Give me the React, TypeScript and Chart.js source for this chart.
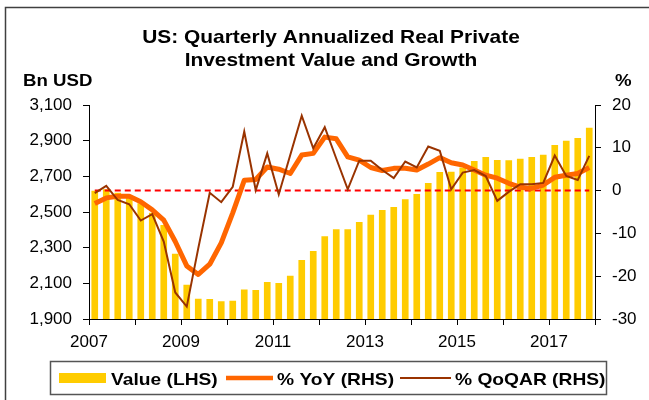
import React, { useEffect, useRef } from 'react';
import { Chart, registerables } from 'chart.js';

Chart.register(...registerables);

const startYear = 2007;
const titleLines = ['US: Quarterly Annualized Real Private', 'Investment Value and Growth'];
const leftAxisTitle = 'Bn USD';
const rightAxisTitle = '%';
const legendLabels = ['Value (LHS)', '% YoY (RHS)', '% QoQAR (RHS)'];

// Quarterly, 2007Q1 .. 2017Q4
const valueBn = [
  2619, 2627, 2608, 2586, 2549, 2496, 2427, 2266,
  2092, 2014, 2012, 1999, 2003, 2066, 2063, 2107,
  2102, 2143, 2231, 2281, 2364, 2403, 2403, 2444,
  2485, 2511, 2528, 2571, 2601, 2663, 2724, 2726,
  2750, 2786, 2808, 2792, 2790, 2799, 2808, 2821,
  2876, 2900, 2915, 2973,
];
const yoyPct = [
  -3.0, -1.7, -1.3, -1.3, -2.6, -4.5, -6.9, -11.9,
  -17.6, -19.6, -17.2, -12.2, -5.2, 2.4, 2.6, 5.5,
  5.0, 4.0, 8.3, 8.7, 12.5, 12.1, 7.9, 7.1,
  5.4, 4.7, 5.2, 5.2, 4.8, 6.2, 7.7, 6.5,
  6.0, 4.8, 3.6, 2.9, 1.7, 0.8, 0.5, 1.3,
  3.1, 3.6, 4.0, 5.4,
];
const qoqarPct = [
  -0.6, 1.1, -2.2, -3.2, -7.0, -5.5, -11.9, -23.8,
  -27.1, -13.5, -0.5, -2.7, 0.9, 13.8, 0.1, 8.7,
  -0.9, 8.3, 17.5, 9.9, 14.8, 7.5, 0.3, 7.0,
  7.0, 4.8, 2.9, 6.8, 5.4, 10.3, 9.3, 0.3,
  4.2, 4.8, 3.4, -2.4, -0.3, 1.5, 1.5, 1.8,
  8.2, 3.4, 2.5, 8.1,
];
const zeroLine = valueBn.map(() => 0);

const leftMin = 1900;
const leftMax = 3100;
const leftStep = 200;
const rightMin = -30;
const rightMax = 20;
const rightStep = 10;

const FONT = '"Liberation Sans", Arial, Helvetica, sans-serif';
const BAR_COLOR = '#FFCC00';
const YOY_COLOR = '#FF6600';
const QOQ_COLOR = '#993300';
const ZERO_COLOR = '#FF0000';
const SX = 1.13;

function stretchText(
  ctx: CanvasRenderingContext2D,
  text: string,
  x: number,
  y: number,
  font: string,
  sx: number,
  align: 'left' | 'center' | 'right'
) {
  ctx.save();
  ctx.font = font;
  ctx.textBaseline = 'alphabetic';
  ctx.textAlign = 'left';
  ctx.fillStyle = '#000';
  const w = ctx.measureText(text).width * sx;
  const left = align === 'center' ? x - w / 2 : align === 'right' ? x - w : x;
  ctx.translate(left, y);
  ctx.scale(sx, 1);
  ctx.fillText(text, 0, 0);
  ctx.restore();
}

const decorPlugin = {
  id: 'decor',
  afterDraw(chart: any) {
    const ctx: CanvasRenderingContext2D = chart.ctx;
    ctx.save();
    // outer frame
    ctx.strokeStyle = '#404040';
    ctx.lineWidth = 1.5;
    ctx.beginPath();
    ctx.moveTo(5.5, 400);
    ctx.lineTo(5.5, 7.5);
    ctx.lineTo(649, 7.5);
    ctx.stroke();

    // title
    const tFont = `bold 18.5px ${FONT}`;
    stretchText(ctx, titleLines[0], 331, 43, tFont, SX, 'center');
    stretchText(ctx, titleLines[1], 331, 66, tFont, SX, 'center');

    // axis titles
    const aFont = `bold 16.5px ${FONT}`;
    stretchText(ctx, leftAxisTitle, 23, 85.5, aFont, SX, 'left');
    stretchText(ctx, rightAxisTitle, 615, 85.5, aFont, SX, 'left');

    // legend
    ctx.fillStyle = '#fff';
    ctx.fillRect(50.5, 361.5, 556, 33);
    ctx.strokeStyle = '#555';
    ctx.lineWidth = 1.5;
    ctx.strokeRect(50.5, 361.5, 556, 33);

    ctx.fillStyle = BAR_COLOR;
    ctx.fillRect(59, 373, 47, 10);

    ctx.lineCap = 'butt';
    ctx.strokeStyle = YOY_COLOR;
    ctx.lineWidth = 4.5;
    ctx.beginPath();
    ctx.moveTo(226, 378);
    ctx.lineTo(273, 378);
    ctx.stroke();

    ctx.strokeStyle = QOQ_COLOR;
    ctx.lineWidth = 2;
    ctx.beginPath();
    ctx.moveTo(400, 378);
    ctx.lineTo(451, 378);
    ctx.stroke();

    const lFont = `bold 17px ${FONT}`;
    stretchText(ctx, legendLabels[0], 111, 384.5, lFont, SX, 'left');
    stretchText(ctx, legendLabels[1], 277, 384.5, lFont, SX, 'left');
    stretchText(ctx, legendLabels[2], 455, 384.5, lFont, SX, 'left');
    ctx.restore();
  },
};

const toXY = (arr: number[]) => arr.map((v, i) => ({ x: i + 0.5, y: v }));

export default function App() {
  const ref = useRef<HTMLCanvasElement | null>(null);

  useEffect(() => {
    document.body.style.margin = '0';
    const canvas = ref.current;
    if (!canvas) return;
    const n = valueBn.length;
    const chart = new Chart(canvas, {
      type: 'bar',
      data: {
        datasets: [
          {
            type: 'line',
            label: legendLabels[2],
            data: toXY(qoqarPct),
            yAxisID: 'y1',
            borderColor: QOQ_COLOR,
            borderWidth: 2,
            pointRadius: 0,
            tension: 0,
            order: 1,
          },
          {
            type: 'line',
            label: legendLabels[1],
            data: toXY(yoyPct),
            yAxisID: 'y1',
            borderColor: YOY_COLOR,
            borderWidth: 5,
            pointRadius: 0,
            tension: 0,
            borderJoinStyle: 'round',
            order: 2,
          },
          {
            type: 'line',
            label: 'zero',
            data: toXY(zeroLine),
            yAxisID: 'y1',
            borderColor: ZERO_COLOR,
            borderWidth: 2,
            borderDash: [6, 4],
            pointRadius: 0,
            order: 3,
          },
          {
            type: 'bar',
            label: legendLabels[0],
            data: toXY(valueBn),
            yAxisID: 'y',
            backgroundColor: BAR_COLOR,
            borderWidth: 0,
            categoryPercentage: 1,
            barPercentage: 0.58,
            order: 4,
          },
        ],
      } as any,
      options: {
        responsive: false,
        animation: false,
        maintainAspectRatio: false,
        layout: { padding: { top: 105, left: 0, right: 0, bottom: 0 } },
        plugins: {
          legend: { display: false },
          title: { display: false },
          tooltip: { enabled: false },
        },
        scales: {
          x: {
            type: 'linear',
            min: 0,
            max: n,
            offset: false,
            afterFit: (s: any) => {
              s.height = 81;
            },
            afterBuildTicks: (s: any) => {
              const t = [];
              for (let v = 0; v <= n; v += 4) t.push({ value: v });
              s.ticks = t;
            },
            ticks: {
              autoSkip: false,
              maxRotation: 0,
              padding: 7,
              color: '#000',
              font: { family: FONT, size: 17 },
              callback: (v: any) => (Number(v) % 8 === 0 ? String(startYear + Number(v) / 4) : ''),
            },
            grid: {
              offset: false,
              drawOnChartArea: false,
              drawTicks: true,
              tickLength: 6,
              color: '#000',
              lineWidth: 1,
            },
            border: { display: true, color: '#000', width: 1 },
          },
          y: {
            type: 'linear',
            position: 'left',
            min: leftMin,
            max: leftMax,
            afterFit: (s: any) => {
              s.width = 89;
            },
            ticks: {
              stepSize: leftStep,
              padding: 11,
              color: '#000',
              font: { family: FONT, size: 17 },
              callback: (v: any) => Number(v).toLocaleString('en-US'),
            },
            grid: { drawOnChartArea: false, drawTicks: true, tickLength: 6, color: '#000', lineWidth: 1 },
            border: { display: true, color: '#000', width: 1 },
          },
          y1: {
            type: 'linear',
            position: 'right',
            min: rightMin,
            max: rightMax,
            afterFit: (s: any) => {
              s.width = 54;
            },
            ticks: {
              stepSize: rightStep,
              padding: 11,
              color: '#000',
              font: { family: FONT, size: 17 },
            },
            grid: { drawOnChartArea: false, drawTicks: true, tickLength: 6, color: '#000', lineWidth: 1 },
            border: { display: true, color: '#000', width: 1 },
          },
        },
      } as any,
      plugins: [decorPlugin],
    });
    return () => chart.destroy();
  }, []);

  return <canvas ref={ref} width={649} height={400} style={{ display: 'block' }} />;
}
